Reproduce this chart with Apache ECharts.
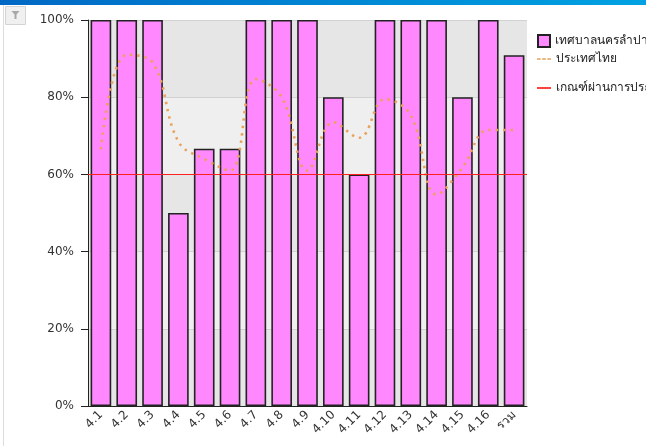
<!DOCTYPE html>
<html>
<head>
<meta charset="utf-8">
<script src="https://cdn.jsdelivr.net/npm/echarts@6/dist/echarts.min.js"></script>
<style>
html,body{margin:0;padding:0;background:#fff;}
#c{width:646px;height:446px;}
</style>
</head>
<body>
<div id="c"></div>
<script>
const categories = ['4.1','4.2','4.3','4.4','4.5','4.6','4.7','4.8','4.9','4.10','4.11','4.12','4.13','4.14','4.15','4.16','รวม'];
const cityValues = [100,100,100,50,66.67,66.67,100,100,100,80,60,100,100,100,80,100,90.9];
const thaiValues = [66.5,91,89,68.5,64,61,84.7,80,61,73.5,69.5,79.5,75.3,54.8,61.8,71.5,71.5];
const passThreshold = 60;
const yTicks = [0,20,40,60,80,100];

const seriesNames = ['เทศบาลนครลำปาง','ประเทศไทย','เกณฑ์ผ่านการประเมิน'];
const FONT = 'DejaVu Sans, Tahoma, sans-serif';

const chart = echarts.init(document.getElementById('c'), null, {renderer:'canvas'});
chart.setOption({
  animation:false,
  backgroundColor:'#fff',
  textStyle:{fontFamily:FONT},
  graphic:[
    {type:'rect', left:0, top:0, shape:{width:646, height:5},
     style:{fill:new echarts.graphic.LinearGradient(0,0,1,0,[{offset:0,color:'#0068c4'},{offset:1,color:'#00a2e2'}])}},
    {type:'line', shape:{x1:3.5, y1:5, x2:3.5, y2:446}, style:{stroke:'#dcdcdc', lineWidth:1}},
    {type:'rect', shape:{x:5.5, y:6.5, width:20, height:18}, style:{fill:'#f0f0f0', stroke:'#d4d4d4', lineWidth:1}},
    {type:'polygon', shape:{points:[[11.5,11],[19.5,11],[16.5,14.5],[16.5,19],[14.5,19],[14.5,14.5]]}, style:{fill:'#a8a8a8'}}
  ],
  legend:[
    {data:[{name:seriesNames[0], icon:'rect'}], left:537, top:34, padding:0, itemWidth:12, itemHeight:12,
     textStyle:{fontSize:12, color:'#222', fontFamily:FONT}},
    {data:[{name:seriesNames[1], icon:'path://M0,0h5v2h-5z M7,0h5v2h-5z M14,0h5v2h-5z'}], left:537, top:52, padding:0, itemWidth:14, itemHeight:2.5,
     itemStyle:{color:'#e9a15b'},
     textStyle:{fontSize:12, color:'#222', fontFamily:FONT, lineHeight:14}},
    {data:[{name:seriesNames[2], icon:'rect'}], left:537, top:82, padding:0, itemWidth:14, itemHeight:1.5,
     itemStyle:{color:'#ff0000'},
     textStyle:{fontSize:12, color:'#222', fontFamily:FONT}}
  ],
  grid:{left:88, right:119, top:20, bottom:40, containLabel:false},
  xAxis:{
    type:'category', data:categories,
    axisLine:{lineStyle:{color:'#222', width:1}},
    axisTick:{alignWithLabel:true, length:6, lineStyle:{color:'#222'}},
    axisLabel:{rotate:45, fontSize:12, color:'#333', margin:7, interval:0, fontFamily:FONT},
    splitLine:{show:false}
  },
  yAxis:{
    type:'value', min:yTicks[0], max:yTicks[yTicks.length-1], interval:20,
    axisLine:{show:true, lineStyle:{color:'#222', width:1}},
    axisTick:{show:true, length:7, lineStyle:{color:'#222'}},
    axisLabel:{formatter:'{value}%', fontSize:12, color:'#333', margin:14, fontFamily:FONT},
    splitLine:{show:true, lineStyle:{color:'#d2d2d2', width:1}},
    splitArea:{show:true, areaStyle:{color:['#e6e6e6','#efefef']}}
  },
  series:[
    {name:seriesNames[0], type:'bar', data:cityValues, barCategoryGap:'20%',
     itemStyle:{color:'#ff88ff', borderColor:'#222', borderWidth:1.6}, z:2},
    {name:seriesNames[1], type:'line', data:thaiValues, smooth:0.4, symbol:'none', showSymbol:false,
     lineStyle:{color:'#e9a15b', width:2.6, type:[2.4,5]}, itemStyle:{color:'#e9a15b'}, z:4},
    {name:seriesNames[2], type:'line', data:[], symbol:'none',
     lineStyle:{color:'#ff0000', width:1}, itemStyle:{color:'#ff0000'},
     markLine:{silent:true, symbol:'none', label:{show:false},
       lineStyle:{color:'#ff2020', width:1.2, type:'solid'},
       data:[{yAxis:passThreshold}]}, z:5}
  ]
});
</script>
</body>
</html>
